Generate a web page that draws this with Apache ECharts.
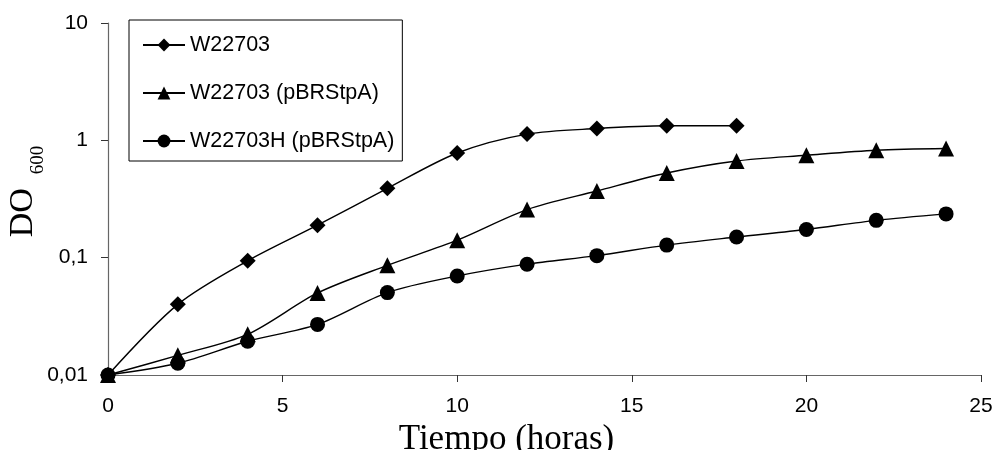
<!DOCTYPE html>
<html>
<head>
<meta charset="utf-8">
<script src="https://cdn.jsdelivr.net/npm/echarts@6/dist/echarts.min.js"></script>
<style>
  html, body { margin: 0; padding: 0; background: #fff; }
  #chart { width: 996px; height: 450px; }
</style>
</head>
<body>
<div id="chart"></div>
<script>
// tiempo en horas
const horas = [0, 2, 4, 6, 8, 10, 12, 14, 16, 18, 20, 22, 24];
// DO600 de cada cepa
const w22703 = [0.01, 0.040, 0.094, 0.189, 0.39, 0.78, 1.13, 1.26, 1.33, 1.33];
const w22703pBR = [0.01, 0.0147, 0.0222, 0.050, 0.086, 0.141, 0.257, 0.37, 0.527, 0.667, 0.746, 0.824, 0.851];
const w22703H = [0.01, 0.0126, 0.0194, 0.027, 0.0504, 0.0698, 0.088, 0.104, 0.128, 0.150, 0.174, 0.208, 0.236];
const nombres = ['W22703', 'W22703 (pBRStpA)', 'W22703H (pBRStpA)'];
const simbolos = ['diamond', 'triangle', 'circle'];
const tamanos = [16, 16, 15];

const sans = '"Liberation Sans", Arial, sans-serif';
const serif = '"Liberation Serif", "Times New Roman", serif';

function pares(ys) {
  return ys.map((y, i) => [horas[i], y]);
}

const chart = echarts.init(document.getElementById('chart'));

const series = [w22703, w22703pBR, w22703H].map((ys, i) => ({
  name: nombres[i],
  type: 'line',
  data: pares(ys),
  smooth: 0.3,
  symbol: simbolos[i],
  symbolSize: tamanos[i],
  lineStyle: { color: '#000', width: 1.4 },
  itemStyle: { color: '#000' },
  emphasis: { disabled: true }
}));

chart.setOption({
  animation: false,
  grid: { left: 108, right: 15, top: 23, bottom: 75, outerBoundsMode: 'none', containLabel: false },
  legend: {
    orient: 'vertical',
    left: 129,
    top: 20,
    padding: [14, 8, 9, 13],
    itemGap: 26,
    itemWidth: 42,
    itemHeight: 16,
    borderColor: '#000',
    borderWidth: 1,
    textStyle: { fontFamily: sans, fontSize: 21.5, color: '#000' },
    data: nombres
  },
  xAxis: {
    type: 'value',
    min: 0,
    max: 25,
    interval: 5,
    name: 'Tiempo (horas)',
    nameLocation: 'middle',
    nameGap: 42,
    nameTextStyle: { fontFamily: serif, fontSize: 35, color: '#000', padding: [0, 76, 0, 0] },
    axisLine: { lineStyle: { color: '#666', width: 1.2 } },
    axisTick: { inside: false, length: 7, lineStyle: { color: '#333' } },
    axisLabel: { fontFamily: sans, fontSize: 21, color: '#000', margin: 21 },
    splitLine: { show: false }
  },
  yAxis: {
    type: 'log',
    logBase: 10,
    min: 0.01,
    max: 10,
    name: '{a|DO}{b|600}',
    nameLocation: 'middle',
    nameRotate: 90,
    nameGap: 60,
    nameMoveOverlap: false,
    nameTextStyle: {
      rich: {
        a: { fontFamily: serif, fontSize: 34, lineHeight: 49, color: '#000', verticalAlign: 'middle', padding: [0, 0, 0, 15] },
        b: { fontFamily: serif, fontSize: 19, lineHeight: 19, color: '#000', verticalAlign: 'bottom', padding: [0, 0, 0, 14] }
      }
    },
    axisLine: { show: true, lineStyle: { color: '#666', width: 1.2 } },
    axisTick: { show: true, length: 7, lineStyle: { color: '#333' } },
    axisLabel: {
      fontFamily: sans, fontSize: 21, color: '#000', margin: 20,
      formatter: v => String(v).replace('.', ',')
    },
    splitLine: { show: false },
    minorTick: { show: false }
  },
  series: series
});
</script>
</body>
</html>
